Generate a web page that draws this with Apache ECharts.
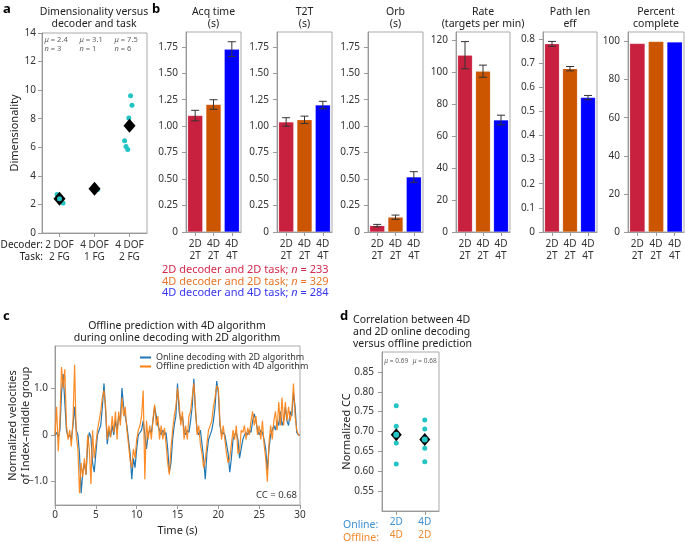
<!DOCTYPE html>
<html><head><meta charset="utf-8">
<script src="https://cdn.jsdelivr.net/npm/echarts@6/dist/echarts.min.js"></script>
<style>html,body{margin:0;padding:0;background:#fff}#c{width:685px;height:542px}</style>
</head><body><div id="c"></div>
<script>
const FONT = '"Noto Sans", sans-serif';
// ---------- Panel a ----------
const dimCategories = ['2 DOF\n2 FG', '4 DOF\n1 FG', '4 DOF\n2 FG'];
const dimPoints = [[2.7, 2.4, 2.1], [3.05], [9.6, 8.95, 8.05, 6.45, 6.05, 5.85]];
const dimJitter = [[-0.07, 0, 0.1], [0.09], [0.03, 0.07, -0.02, -0.14, -0.1, -0.05]];
const dimMeans = [2.4, 3.1, 7.5];
const dimMeanLabels = ['2.4', '3.1', '7.5'];
const dimN = [3, 1, 6];
const dimTicks = [0, 2, 4, 6, 8, 10, 12, 14];

// ---------- Panel b ----------
const condCategories = ['2D\n2T', '4D\n2T', '4D\n4T'];
const condColors = ['#c8203f', '#cc5500', '#0000ff'];
const acqTime = [1.10, 1.205, 1.728];  const acqErr = [0.05, 0.045, 0.07];
const t2tTime = [1.04, 1.06, 1.20];    const t2tErr = [0.04, 0.035, 0.035];
const orbTime = [0.06, 0.14, 0.52];    const orbErr = [0.012, 0.02, 0.05];
const rateVals = [110.5, 100.5, 70];   const rateErr = [8.5, 3.8, 3];
const pathEff = [0.78, 0.677, 0.557];  const pathErr = [0.01, 0.009, 0.009];
const pctComplete = [99, 100, 99.7];
const secTicks = [0, 0.25, 0.5, 0.75, 1, 1.25, 1.5, 1.75];
const rateTicks = [0, 20, 40, 60, 80, 100, 120];
const pathTicks = [0, 0.1, 0.2, 0.3, 0.4, 0.5, 0.6, 0.7, 0.8];
const pctTicks = [0, 20, 40, 60, 80, 100];
const condLegend = ['2D decoder and 2D task; ', '4D decoder and 2D task; ', '4D decoder and 4D task; '];
const condN = [233, 329, 284];
const condTextColors = ['#d4284c', '#e8762c', '#3636f0'];

// ---------- Panel c ----------
const timeStep = 0.2;
const onlineVel = [
  0.0, 0.05, -0.05, 0.1, 0.9,    1.3, 0.7, 0.1, -0.05, 0.0,    -0.1, 0.2, 0.6, 0.1, 0.0,
  -0.4, -1.25, -0.8, -0.6, -0.85, -0.2, 0.05, -0.05, -0.6, -0.8, -0.4, 0.0, 0.1, 0.2, 0.6,
  1.1, 0.5, -0.2, 0.1, -0.05,    0.2, 0.0, 0.3, 0.1, 0.4,      0.3, 1.0, 0.6, 0.4, 0.2,
  -0.1, -0.4, -0.95, -0.5, -0.7, -0.3, 0.0, 0.05, 0.1, 0.3,    0.0, -0.3, 0.0, 0.1, 0.05,
  0.3, 0.6, 0.4, 0.2, 0.1,       0.0, 0.1, 0.0, 0.05, -0.3,    -0.8, -0.6, -0.1, 0.2, 0.4,
  1.1, 0.5, 0.3, 0.4, 0.1,       0.0, 0.1, 0.05, 0.3, 0.6,     1.2, 0.5, 0.1, 0.0, 0.1,
  -0.2, -0.5, -0.95, -0.4, -0.1, 0.0, 0.1, 0.3, 0.6, 1.15,     0.9, 0.2, 0.0, 0.05, 0.0,
  -0.2, -0.4, -0.8, -0.5, -0.1,  0.0, 0.05, -0.1, -0.5, -0.3,  -0.1, 0.0, 0.05, 0.0, 0.1,
  0.05, 0.3, 0.45, 0.3, 0.1,     0.0, 0.1, 0.05, -0.1, -0.3,   -0.75, -0.3, 0.0, 0.1, 0.2,
  0.1, 0.3, 0.2, 0.5, 0.2,       0.3, 0.6, 0.3, 0.2, 0.5,      0.4, 0.9, 0.6, 0.05, 0.0,
  0.0
];
const offlineVel = [
  0.0, 0.6, -0.35, 0.3, 1.45,    1.0, 1.4, 0.2, -0.1, 0.1,     -0.25, 0.3, 1.5, 0.0, -0.3,
  -1.25, -0.6, -0.9, -0.5, -0.85, 0.0, -0.3, -1.05, 0.1, -0.5,  -0.2, 0.1, 0.3, 0.5, 0.8,
  0.95, 0.6, -0.1, 0.2, -0.05,   0.4, 0.05, 0.5, -0.1, 0.5,    0.2, 0.8, 0.4, 0.6, 0.1,
  -0.2, -0.55, -0.7, -0.3, -0.5, -0.1, 0.1, 0.2, 0.4, 0.95,    -0.95, 0.3, -0.1, 0.2, -0.1,
  0.35, 0.65, 0.2, 0.4, -0.1,    0.2, -0.1, 0.15, -0.2, -0.6,  -0.85, -0.3, 0.1, 0.4, 0.6,
  1.0, 0.7, 0.2, 0.5, -0.1,      0.2, -0.1, 0.4, 0.5, 0.8,     1.1, 0.6, 0.0, 0.2, -0.2,
  -0.4, -0.7, -0.55, -0.2, 0.1,  0.1, 0.3, 0.6, 0.8, 1.05,     1.0, 0.3, -0.1, 0.2, -0.1,
  -0.4, -0.6, -0.5, -0.2, 0.1,   -0.1, 0.2, -0.4, -0.35, 0.1,  0.05, 0.2, -0.1, 0.15, 0.0,
  0.3, 0.5, 0.2, 0.4, 0.0,       0.2, -0.1, 0.3, -0.2, -0.5,   -1.0, -0.2, 0.2, -0.1, 0.3,
  0.5, 0.1, 0.7, 0.2, 0.8,       0.2, 0.7, 0.3, 0.6, 0.3,      0.5, 1.1, 0.4, 0.1, 0.0,
  0.0
];
const velTicks = [-1, 0, 1];
const timeTicks = [0, 5, 10, 15, 20, 25, 30];
const ccText = 'CC = 0.68';

// ---------- Panel d ----------
const ccOnline = ['2D', '4D'];
const ccOffline = ['4D', '2D'];
const ccPoints = [[0.765, 0.713, 0.671, 0.618], [0.729, 0.706, 0.658, 0.624]];
const ccMeans = [0.692, 0.680];
const ccMeanLabels = ['0.69', '0.68'];
const ccTicks = [0.55, 0.6, 0.65, 0.7, 0.75, 0.8, 0.85];

// ---------- build ----------
const CYAN = '#22c4c4';
const AX = '#999';
const LBL = '#333';
const chart = echarts.init(document.getElementById('c'), null, {renderer: 'canvas'});

const grids = [], xAxes = [], yAxes = [], series = [], graphics = [];
function gtext(text, x, y, opt) {
  graphics.push({type: 'text', x, y, style: Object.assign({text, fontFamily: FONT, fontSize: 10.5, fill: '#222', align: 'center', verticalAlign: 'middle', lineHeight: 12}, opt || {})});
}
const fmt2 = v => v === 0 ? '0' : v.toFixed(2);
const fmt1 = v => v === 0 ? '0' : v.toFixed(1);
function yAx(gi, min, max, ticks, fmt, margin, extra) {
  return Object.assign({
    type: 'value', gridIndex: gi, min, max,
    splitLine: {show: false}, nameMoveOverlap: false,
    axisLine: {show: true, onZero: false, lineStyle: {color: AX}},
    axisTick: {show: true, length: 4, lineStyle: {color: AX}, customValues: ticks},
    axisLabel: {color: LBL, fontSize: 10, fontFamily: FONT, margin, formatter: fmt, customValues: ticks}
  }, extra || {});
}
function catAx(gi, data, margin, extra) {
  return Object.assign({
    type: 'category', gridIndex: gi, data,
    axisLine: {show: true, onZero: false, lineStyle: {color: AX}},
    axisTick: {show: true, length: 4, alignWithLabel: true, lineStyle: {color: AX}},
    axisLabel: {color: LBL, fontSize: 10, fontFamily: FONT, margin, lineHeight: 12, interval: 0}
  }, extra || {});
}
const gridBase = {show: true, borderColor: '#aaa', borderWidth: 1, containLabel: false};
const solid = c => ({color: c, opacity: 1});

// Panel a
grids.push(Object.assign({left: 42, top: 33, width: 105, height: 200}, gridBase));
xAxes.push(catAx(0, dimCategories, 6));
xAxes.push({type: 'value', gridIndex: 0, min: -0.5, max: 2.5, show: false, axisLine: {onZero: false}});
yAxes.push(yAx(0, 0, 14, dimTicks, v => String(v), 6, {name: 'Dimensionality', nameLocation: 'middle', nameGap: 22, nameTextStyle: {fontSize: 11, color: '#222', fontFamily: FONT}}));
series.push({type: 'scatter', xAxisIndex: 1, yAxisIndex: 0, symbolSize: 5, itemStyle: solid(CYAN), z: 2,
  data: dimPoints.flatMap((g, i) => g.map((v, j) => [i + dimJitter[i][j], v]))});
series.push({type: 'scatter', xAxisIndex: 1, yAxisIndex: 0, symbol: 'diamond', symbolSize: [12, 14], itemStyle: solid('#000'), z: 3,
  data: dimMeans.map((m, i) => [i, m])});
series.push({type: 'scatter', xAxisIndex: 1, yAxisIndex: 0, symbolSize: 5, itemStyle: solid(CYAN), z: 4,
  data: [[0, dimMeans[0]]]});
series.push({type: 'scatter', xAxisIndex: 1, yAxisIndex: 0, symbolSize: 0, z: 5,
  data: dimMeans.map((m, i) => [i, 13.2]),
  label: {show: true, position: 'inside', align: 'left', offset: [-15, 0], fontSize: 7.5, lineHeight: 9, color: '#333', fontFamily: FONT,
    formatter: p => '{i|μ} = ' + dimMeanLabels[p.dataIndex] + '\n{i|n} = ' + dimN[p.dataIndex],
    rich: {i: {fontStyle: 'italic', fontSize: 7.5, fontFamily: FONT, color: '#333'}}}});

// Panel b
const bPanels = [
  {title: 'Acq time\n(s)', vals: acqTime, err: acqErr, max: 1.89, ticks: secTicks, fmt: fmt2},
  {title: 'T2T\n(s)', vals: t2tTime, err: t2tErr, max: 1.89, ticks: secTicks, fmt: fmt2},
  {title: 'Orb\n(s)', vals: orbTime, err: orbErr, max: 1.89, ticks: secTicks, fmt: fmt2},
  {title: 'Rate\n(targets per min)', vals: rateVals, err: rateErr, max: 125, ticks: rateTicks, fmt: v => String(v)},
  {title: 'Path len\neff', vals: pathEff, err: pathErr, max: 0.829, ticks: pathTicks, fmt: fmt1},
  {title: 'Percent\ncomplete', vals: pctComplete, err: null, max: 105, ticks: pctTicks, fmt: v => String(v)}
];
const bLeft = [186, 277, 368, 456, 543, 628];
const bWidth = [55, 55, 55, 54, 54, 56];
function errRender(params, api) {
  const i = api.value(0);
  const lo = api.coord([i, api.value(1)]);
  const hi = api.coord([i, api.value(2)]);
  const w = 4, style = {stroke: '#333', lineWidth: 1};
  return {type: 'group', children: [
    {type: 'line', shape: {x1: lo[0], y1: lo[1], x2: hi[0], y2: hi[1]}, style},
    {type: 'line', shape: {x1: lo[0] - w, y1: lo[1], x2: lo[0] + w, y2: lo[1]}, style},
    {type: 'line', shape: {x1: hi[0] - w, y1: hi[1], x2: hi[0] + w, y2: hi[1]}, style}
  ]};
}
bPanels.forEach((p, k) => {
  const gi = grids.length;
  grids.push(Object.assign({left: bLeft[k], top: 32, width: bWidth[k], height: 200}, gridBase));
  const xi = xAxes.length, yi = yAxes.length;
  xAxes.push(catAx(gi, condCategories, 6));
  yAxes.push(yAx(gi, 0, p.max, p.ticks, p.fmt, 8));
  series.push({type: 'bar', xAxisIndex: xi, yAxisIndex: yi, barWidth: '82%',
    data: p.vals.map((v, i) => ({value: v, itemStyle: {color: condColors[i], borderColor: 'rgba(255,255,255,0.35)', borderWidth: 0.5}}))});
  if (p.err) series.push({type: 'custom', xAxisIndex: xi, yAxisIndex: yi, renderItem: errRender, z: 5,
    data: p.vals.map((v, i) => [i, v - p.err[i], v + p.err[i]])});
  gtext(p.title, bLeft[k] + bWidth[k] / 2, 18, {fontSize: 10.5});
});
condLegend.forEach((t, i) => {
  graphics.push({type: 'text', x: 162, y: 270 + i * 11.5, style: {
    text: '{a|' + t + '}{b|n}{a| = ' + condN[i] + '}', fontFamily: FONT, verticalAlign: 'middle', align: 'left',
    rich: {a: {fontSize: 11, fill: condTextColors[i], fontFamily: FONT}, b: {fontSize: 11, fill: condTextColors[i], fontStyle: 'italic', fontFamily: FONT}}}});
});

// Panel c
const gc = grids.length;
grids.push(Object.assign({left: 55, top: 346, width: 245, height: 159}, gridBase));
const xc = xAxes.length, yc = yAxes.length;
xAxes.push({type: 'value', gridIndex: gc, min: 0, max: 30, interval: 5, splitLine: {show: false}, nameMoveOverlap: false,
  axisLine: {show: true, onZero: false, lineStyle: {color: AX}}, axisTick: {length: 4, lineStyle: {color: AX}, customValues: timeTicks},
  axisLabel: {color: LBL, fontSize: 10, fontFamily: FONT, margin: 5, customValues: timeTicks},
  name: 'Time (s)', nameLocation: 'middle', nameGap: 20, nameTextStyle: {fontSize: 11, color: '#222', fontFamily: FONT}});
yAxes.push(yAx(gc, -1.5, 1.9, velTicks, v => v === 0 ? '0' : (v < 0 ? '\u2212' + Math.abs(v).toFixed(1) : v.toFixed(1)), 7,
  {name: 'Normalized velocities\nof Index\u2013middle group', nameLocation: 'middle', nameGap: 23,
   nameTextStyle: {fontSize: 11, color: '#222', fontFamily: FONT, lineHeight: 13}}));
series.push({type: 'line', name: 'Online decoding with 2D algorithm', xAxisIndex: xc, yAxisIndex: yc, showSymbol: false, symbol: 'none',
  lineStyle: {color: '#1f77b4', width: 1.2}, itemStyle: {color: '#1f77b4'},
  data: onlineVel.map((v, i) => [i * timeStep, v])});
series.push({type: 'line', name: 'Offline prediction with 4D algorithm', xAxisIndex: xc, yAxisIndex: yc, showSymbol: false, symbol: 'none',
  lineStyle: {color: '#ff7f0e', width: 1.2, opacity: 0.9}, itemStyle: {color: '#ff7f0e'},
  data: offlineVel.map((v, i) => [i * timeStep, v])});
gtext('Offline prediction with 4D algorithm\nduring online decoding with 2D algorithm', 177, 332, {fontSize: 10.5});
graphics.push({type: 'text', x: 297, y: 495, style: {text: ccText, fontFamily: FONT, fontSize: 9.5, fill: '#333', align: 'right', verticalAlign: 'middle'}});

// Panel d
const gd = grids.length;
grids.push(Object.assign({left: 382, top: 352, width: 57, height: 166}, gridBase));
const xd = xAxes.length, yd = yAxes.length;
xAxes.push(catAx(gd, ccOnline, 5, {axisLabel: {interval: 0, margin: 5, lineHeight: 13, fontFamily: FONT,
  formatter: (v, i) => '{on|' + ccOnline[i] + '}\n{off|' + ccOffline[i] + '}',
  rich: {on: {color: '#3d8fd1', fontSize: 10, fontFamily: FONT}, off: {color: '#f08a32', fontSize: 10, fontFamily: FONT}}}}));
yAxes.push(yAx(gd, 0.5, 0.9, ccTicks, v => v.toFixed(2), 8,
  {name: 'Normalized CC', nameLocation: 'middle', nameGap: 30, nameTextStyle: {fontSize: 11, color: '#222', fontFamily: FONT}}));
series.push({type: 'scatter', xAxisIndex: xd, yAxisIndex: yd, symbolSize: 5, itemStyle: solid(CYAN), z: 2,
  data: ccPoints.flatMap((g, i) => g.map(v => [i, v]))});
series.push({type: 'scatter', xAxisIndex: xd, yAxisIndex: yd, symbol: 'diamond', symbolSize: [11, 13], itemStyle: solid('#000'), z: 3,
  data: ccMeans.map((m, i) => [i, m])});
series.push({type: 'scatter', xAxisIndex: xd, yAxisIndex: yd, symbolSize: 6, itemStyle: solid(CYAN), z: 4,
  data: ccMeans.map((m, i) => [i, m])});
series.push({type: 'scatter', xAxisIndex: xd, yAxisIndex: yd, symbolSize: 0, z: 5,
  data: ccMeans.map((m, i) => [i, 0.878]),
  label: {show: true, position: 'inside', fontSize: 6.5, color: '#333', fontFamily: FONT,
    formatter: p => '{i|μ} = ' + ccMeanLabels[p.dataIndex], rich: {i: {fontStyle: 'italic', fontSize: 6.5, fontFamily: FONT}}}});
graphics.push({type: 'text', x: 343, y: 525, style: {text: 'Online:', fontFamily: FONT, fontSize: 10.5, fill: '#3d8fd1', align: 'left', verticalAlign: 'middle'}});
graphics.push({type: 'text', x: 343, y: 538.5, style: {text: 'Offline:', fontFamily: FONT, fontSize: 10.5, fill: '#f08a32', align: 'left', verticalAlign: 'middle'}});
gtext('Correlation between 4D\nand 2D online decoding\nversus offline prediction', 353, 332, {align: 'left', fontSize: 10.5});

// Panel a titles and labels
gtext('Dimensionality versus\ndecoder and task', 94, 18, {fontSize: 10.5});
graphics.push({type: 'text', x: 43, y: 245, style: {text: 'Decoder:', fontFamily: FONT, fontSize: 10, fill: '#222', align: 'right', verticalAlign: 'middle'}});
graphics.push({type: 'text', x: 43, y: 257, style: {text: 'Task:', fontFamily: FONT, fontSize: 10, fill: '#222', align: 'right', verticalAlign: 'middle'}});
// panel letters
[['a', 3, 3], ['b', 152, 3], ['c', 3, 310], ['d', 340, 310]].forEach(([t, x, y]) =>
  graphics.push({type: 'text', x, y, style: {text: t, fontFamily: FONT, fontSize: 13, fontWeight: 'bold', fill: '#000'}}));

chart.setOption({
  animation: false,
  textStyle: {fontFamily: FONT},
  grid: grids, xAxis: xAxes, yAxis: yAxes, series,
  legend: {data: ['Online decoding with 2D algorithm', 'Offline prediction with 4D algorithm'], orient: 'vertical',
    left: 135, top: 348, itemWidth: 11, itemHeight: 2, itemGap: 0, icon: 'rect',
    textStyle: {fontSize: 9, color: '#333', fontFamily: FONT}},
  graphic: graphics
});
</script></body></html>
